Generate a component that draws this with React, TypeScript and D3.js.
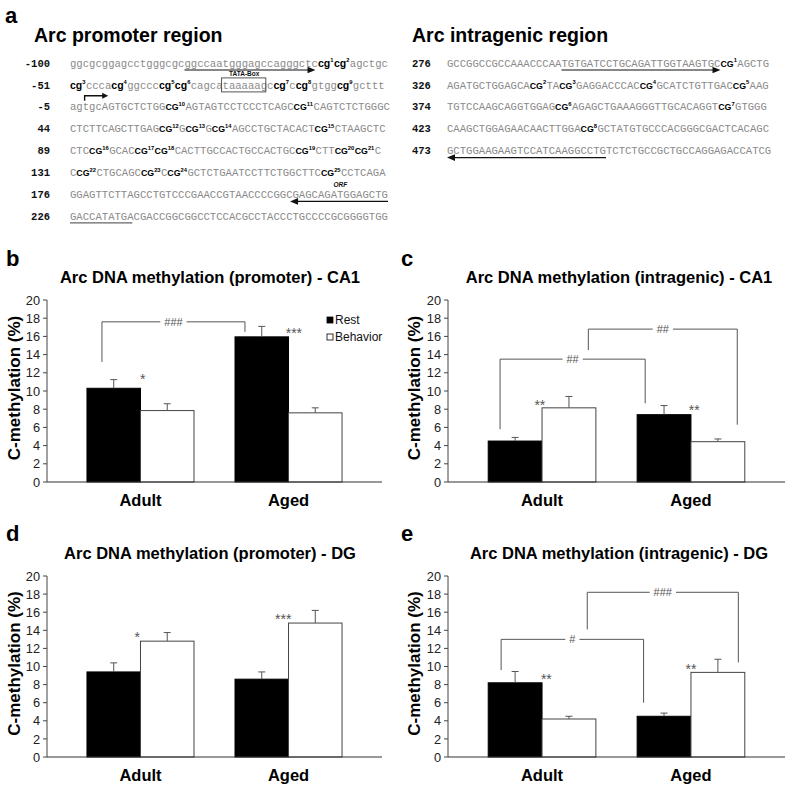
import React from "react";
import * as d3 from "d3";

// ---------------- Panel a: sequences ----------------
const promoterNumbers = ["-100", "-51", "-5", "44", "89", "131", "176", "226"];
const promoterRows = [
  "ggcgcggagcctgggcgcggccaatgggagccagggctc[cg1][cg2]agctgc",
  "[cg3]ccca[cg4]ggccc[cg5][cg6]cagcataaaaagc[cg7]c[cg8]gtgg[cg9]gcttt",
  "agtgcAGTGCTCTGG[CG10]AGTAGTCCTCCCTCAGC[CG11]CAGTCTCTGGGC",
  "CTCTTCAGCTTGAG[CG12]G[CG13]G[CG14]AGCCTGCTACACT[CG15]CTAAGCTC",
  "CTC[CG16]GCAC[CG17][CG18]CACTTGCCACTGCCACTGC[CG19]CTT[CG20][CG21]C",
  "C[CG22]CTGCAGC[CG23]C[CG24]GCTCTGAATCCTTCTGGCTTC[CG25]CCTCAGA",
  "GGAGTTCTTAGCCTGTCCCGAACCGTAACCCCGGCGAGCAGATGGAGCTG",
  "GACCATATGACGACCGGCGGCCTCCACGCCTACCCTGCCCCGCGGGGTGG",
];
const intragenicNumbers = ["276", "326", "374", "423", "473"];
const intragenicRows = [
  "GCCGGCCGCCAAACCCAATGTGATCCTGCAGATTGGTAAGTGC[CG1]AGCTG",
  "AGATGCTGGAGCA[CG2]TA[CG3]GAGGACCCAC[CG4]GCATCTGTTGAC[CG5]AAG",
  "TGTCCAAGCAGGTGGAG[CG6]AGAGCTGAAAGGGTTGCACAGGT[CG7]GTGGG",
  "CAAGCTGGAGAACAACTTGGA[CG8]GCTATGTGCCCACGGGCGACTCACAGC",
  "GCTGGAAGAAGTCCATCAAGGCCTGTCTCTGCCGCTGCCAGGAGACCATCG",
];
// feature annotations (row, base index range)
const promoterFeatures = [
  { row: 0, type: "arrowRight", from: 18, to: 38.6, label: "" },
  { row: 1, type: "box", from: 22, to: 28.8, label: "TATA-Box" },
  { row: 2, type: "tss", from: 2.3, to: 6, label: "" },
  { row: 6, type: "arrowLeft", from: 50, to: 34.6, label: "ORF" },
  { row: 7, type: "underline", from: 0, to: 9.8, label: "" },
];
const intragenicFeatures = [
  { row: 0, type: "arrowRight", from: 18, to: 43, label: "" },
  { row: 4, type: "arrowLeft", from: 25, to: 0, label: "" },
];

// ---------------- Bar chart data ----------------
const categories = ["Adult", "Aged"];
const seriesNames = ["Rest", "Behavior"];
const yTicks = [0, 2, 4, 6, 8, 10, 12, 14, 16, 18, 20];

const promoterCA1Rest = [10.3, 15.95];
const promoterCA1RestErr = [0.95, 1.15];
const promoterCA1Behavior = [7.85, 7.6];
const promoterCA1BehaviorErr = [0.75, 0.55];
const promoterCA1Stars = [
  { cat: "Adult", pos: 0.52, level: 11.5, text: "*" },
  { cat: "Aged", pos: 0.55, level: 16.6, text: "***" },
];
const promoterCA1Brackets = [
  { from: "Adult", fromPos: 0.14, to: "Aged", toPos: 0.093, left: 13.2, top: 17.6, right: 16.5, label: "###" },
];

const intragenicCA1Rest = [4.5, 7.4];
const intragenicCA1RestErr = [0.4, 1.0];
const intragenicCA1Behavior = [8.15, 4.43];
const intragenicCA1BehaviorErr = [1.25, 0.3];
const intragenicCA1Stars = [
  { cat: "Adult", pos: 0.48, level: 8.7, text: "**" },
  { cat: "Aged", pos: 0.53, level: 8.1, text: "**" },
];
const intragenicCA1Brackets = [
  { from: "Adult", fromPos: 0.11, to: "Aged", toPos: 0.075, left: 5.8, top: 13.5, right: 8.65, label: "##" },
  { from: "Adult", fromPos: 0.93, to: "Aged", toPos: 0.93, left: 14.5, top: 16.8, right: 6.3, label: "##" },
];

const promoterDGRest = [9.4, 8.6];
const promoterDGRestErr = [1.0, 0.8];
const promoterDGBehavior = [12.8, 14.8];
const promoterDGBehaviorErr = [0.95, 1.4];
const promoterDGStars = [
  { cat: "Adult", pos: 0.47, level: 13.5, text: "*" },
  { cat: "Aged", pos: 0.45, level: 15.5, text: "***" },
];
const promoterDGBrackets: any[] = [];

const intragenicDGRest = [8.2, 4.5];
const intragenicDGRestErr = [1.25, 0.35];
const intragenicDGBehavior = [4.2, 9.35];
const intragenicDGBehaviorErr = [0.3, 1.45];
const intragenicDGStars = [
  { cat: "Adult", pos: 0.54, level: 8.8, text: "**" },
  { cat: "Aged", pos: 0.5, level: 9.9, text: "**" },
];
const intragenicDGBrackets = [
  { from: "Adult", fromPos: 0.12, to: "Aged", toPos: 0.06, left: 9.6, top: 13.0, right: 6.0, label: "#" },
  { from: "Adult", fromPos: 0.92, to: "Aged", toPos: 0.94, left: 14.1, top: 18.2, right: 10.45, label: "###" },
];

const panels = [
  { id: "b", title: "Arc DNA methylation (promoter) - CA1", frame: { x0: 47, x1: 382, top: 300, bottom: 482 }, label: [6, 266], titleX: 210, ylabX: 20, rest: promoterCA1Rest, restErr: promoterCA1RestErr, beh: promoterCA1Behavior, behErr: promoterCA1BehaviorErr, stars: promoterCA1Stars, brackets: promoterCA1Brackets, legend: true },
  { id: "c", title: "Arc DNA methylation (intragenic) - CA1", frame: { x0: 448, x1: 785, top: 300, bottom: 482 }, label: [401, 266], titleX: 619, ylabX: 420, rest: intragenicCA1Rest, restErr: intragenicCA1RestErr, beh: intragenicCA1Behavior, behErr: intragenicCA1BehaviorErr, stars: intragenicCA1Stars, brackets: intragenicCA1Brackets, legend: false },
  { id: "d", title: "Arc DNA methylation (promoter) - DG", frame: { x0: 47, x1: 382, top: 576, bottom: 757 }, label: [6, 541], titleX: 210, ylabX: 20, rest: promoterDGRest, restErr: promoterDGRestErr, beh: promoterDGBehavior, behErr: promoterDGBehaviorErr, stars: promoterDGStars, brackets: promoterDGBrackets, legend: false },
  { id: "e", title: "Arc DNA methylation (intragenic) - DG", frame: { x0: 448, x1: 785, top: 576, bottom: 757 }, label: [401, 541], titleX: 619, ylabX: 420, rest: intragenicDGRest, restErr: intragenicDGRestErr, beh: intragenicDGBehavior, behErr: intragenicDGBehaviorErr, stars: intragenicDGStars, brackets: intragenicDGBrackets, legend: false },
];

const SANS = "'Liberation Sans', Arial, Helvetica, sans-serif";
const MONO = "'Liberation Mono', 'Courier New', monospace";
const SEQ_FS = 10.6;
const CW = SEQ_FS * 0.6;
const CG_LOWER_FS = 10.5;
const CG_UPPER_FS = 8.8;
const SUP_FS = 5.8;
const boldW: Record<string, number> = { c: 0.556, g: 0.611, C: 0.722, G: 0.778 };

type Seg = { kind: string; text: string; num?: string; x: number; fs?: number; supX?: number };

function layoutRow(row: string, x0: number) {
  const parts = row.split(/(\[(?:cg|CG)\d+\])/).filter((p) => p.length > 0);
  const segs: Seg[] = [];
  const baseX: number[] = [];
  let x = x0;
  for (const p of parts) {
    const m = p.match(/^\[(cg|CG)(\d+)\]$/);
    if (m) {
      const fs = m[1] === "cg" ? CG_LOWER_FS : CG_UPPER_FS;
      const w1 = boldW[m[1][0]] * fs;
      const w2 = boldW[m[1][1]] * fs;
      baseX.push(x, x + w1);
      const supX = x + w1 + w2;
      segs.push({ kind: "cg", text: m[1], num: m[2], x, fs, supX });
      x = supX + m[2].length * 0.556 * SUP_FS + 0.4;
    } else {
      for (let i = 0; i < p.length; i++) baseX.push(x + i * CW);
      segs.push({ kind: "base", text: p, x });
      x += p.length * CW;
    }
  }
  baseX.push(x);
  return { segs, baseX };
}

function xAt(baseX: number[], f: number) {
  const i = Math.floor(f);
  if (i >= baseX.length - 1) return baseX[baseX.length - 1];
  return baseX[i] + (f - i) * (baseX[i + 1] - baseX[i]);
}

function SeqBlock({ numbers, rows, features, numX, numAnchor, seqX, rowY0, rowStep }: any) {
  const layouts = rows.map((r: string) => layoutRow(r, seqX));
  return (
    <g>
      {rows.map((r: string, i: number) => {
        const yc = rowY0 + i * rowStep;
        const base = yc + 3.6;
        const { segs } = layouts[i];
        return (
          <g key={i}>
            <text x={numX} y={base} textAnchor={numAnchor} fontFamily={MONO} fontWeight="bold" fontSize={10.5} fill="#111">
              {numbers[i]}
            </text>
            {segs.map((s: Seg, j: number) =>
              s.kind === "base" ? (
                <text key={j} x={s.x} y={base} fontFamily={MONO} fontSize={SEQ_FS} fill="#8a8a8a">
                  {s.text}
                </text>
              ) : (
                <g key={j}>
                  <text x={s.x} y={base} fontFamily={SANS} fontWeight="bold" fontSize={s.fs} fill="#000">
                    {s.text}
                  </text>
                  <text x={s.supX} y={base - 4.2} fontFamily={SANS} fontWeight="bold" fontSize={SUP_FS} fill="#000">
                    {s.num}
                  </text>
                </g>
              )
            )}
          </g>
        );
      })}
      {features.map((f: any, k: number) => {
        const yc = rowY0 + f.row * rowStep;
        const bx = layouts[f.row].baseX;
        const xa = xAt(bx, f.from);
        const xb = xAt(bx, f.to);
        if (f.type === "arrowRight") {
          const yy = yc + 7;
          return (
            <g key={k}>
              <line x1={xa} x2={xb - 6} y1={yy} y2={yy} stroke="#111" strokeWidth={1.1} />
              <path d={`M${xb},${yy} L${xb - 8},${yy - 3.3} L${xb - 8},${yy + 3.3} Z`} fill="#111" />
            </g>
          );
        }
        if (f.type === "arrowLeft") {
          const yy = yc + 7;
          return (
            <g key={k}>
              <line x1={xa} x2={xb + 6} y1={yy} y2={yy} stroke="#111" strokeWidth={1.1} />
              <path d={`M${xb},${yy} L${xb + 8},${yy - 3.3} L${xb + 8},${yy + 3.3} Z`} fill="#111" />
              {f.label ? (
                <text x={xAt(bx, 42.5)} y={yc - 7.5} textAnchor="middle" fontFamily={SANS} fontWeight="bold" fontStyle="italic" fontSize={6.5} fill="#111">
                  {f.label}
                </text>
              ) : null}
            </g>
          );
        }
        if (f.type === "underline") {
          const yy = yc + 6.5;
          return <line key={k} x1={xa} x2={xb} y1={yy} y2={yy} stroke="#666" strokeWidth={1.2} />;
        }
        if (f.type === "box") {
          return (
            <g key={k}>
              <rect x={xa - 1} y={yc - 7} width={xb - xa + 1} height={14} fill="none" stroke="#555" strokeWidth={1} />
              <text x={(xa + xb) / 2} y={yc - 8.5} textAnchor="middle" fontFamily={SANS} fontWeight="bold" fontSize={6.5} fill="#111">
                {f.label}
              </text>
            </g>
          );
        }
        if (f.type === "tss") {
          const yTop = yc - 11;
          return (
            <g key={k}>
              <path d={`M${xa},${yc - 6} V${yTop} H${xb - 5}`} fill="none" stroke="#111" strokeWidth={1.4} />
              <path d={`M${xb},${yTop} L${xb - 6},${yTop - 3} L${xb - 6},${yTop + 3} Z`} fill="#111" />
            </g>
          );
        }
        return null;
      })}
    </g>
  );
}

function BarPanel({ p }: any) {
  const { x0, x1, top, bottom } = p.frame;
  const y = d3.scaleLinear().domain([0, 20]).range([bottom, top]);
  const x = d3.scaleBand().domain(categories).range([x0, x1]).paddingInner(0.277).paddingOuter(0.27);
  const xs = d3.scaleBand().domain(seriesNames).range([0, x.bandwidth()]);
  const values: Record<string, number[]> = { Rest: p.rest, Behavior: p.beh };
  const errs: Record<string, number[]> = { Rest: p.restErr, Behavior: p.behErr };
  const bw = xs.bandwidth();
  return (
    <g>
      <text x={p.label[0]} y={p.label[1]} fontFamily={SANS} fontWeight="bold" fontSize={22} fill="#000">
        {p.id}
      </text>
      <text x={p.titleX} y={top - 17} textAnchor="middle" fontFamily={SANS} fontWeight="bold" fontSize={16.5} fill="#000">
        {p.title}
      </text>
      <text
        transform={`translate(${p.ylabX},${(top + bottom) / 2 - 3}) rotate(-90)`}
        textAnchor="middle"
        fontFamily={SANS}
        fontWeight="bold"
        fontSize={17}
        fill="#000"
      >
        C-methylation (%)
      </text>
      {yTicks.map((t) => (
        <g key={t}>
          <line x1={x0 - 4} x2={x0} y1={y(t)} y2={y(t)} stroke="#444" strokeWidth={1} />
          <text x={x0 - 7} y={y(t)} dy="0.36em" textAnchor="end" fontFamily={SANS} fontSize={12.8} fill="#222">
            {t}
          </text>
        </g>
      ))}
      {seriesNames.map((s) =>
        categories.map((c, i) => {
          const v = values[s][i];
          const bx = (x(c) as number) + (xs(s) as number);
          return (
            <rect
              key={s + c}
              x={bx}
              y={y(v)}
              width={bw}
              height={y(0) - y(v)}
              fill={s === "Rest" ? "#000" : "#fff"}
              stroke={s === "Rest" ? "#000" : "#444"}
              strokeWidth={1}
            />
          );
        })
      )}
      {seriesNames.map((s) =>
        categories.map((c, i) => {
          const v = values[s][i];
          const e = errs[s][i];
          const cx = (x(c) as number) + (xs(s) as number) + bw / 2;
          return (
            <g key={"e" + s + c}>
              <line x1={cx} x2={cx} y1={y(v)} y2={y(v + e)} stroke="#555" strokeWidth={1} />
              <line x1={cx - 3.5} x2={cx + 3.5} y1={y(v + e)} y2={y(v + e)} stroke="#555" strokeWidth={1} />
            </g>
          );
        })
      )}
      <line x1={x0} x2={x0} y1={top} y2={bottom} stroke="#444" strokeWidth={1} />
      <line x1={x0} x2={x1} y1={bottom} y2={bottom} stroke="#333" strokeWidth={1.2} />
      {categories.map((c) => (
        <text key={c} x={(x(c) as number) + x.bandwidth() / 2} y={bottom + 24} textAnchor="middle" fontFamily={SANS} fontWeight="bold" fontSize={16.5} fill="#000">
          {c}
        </text>
      ))}
      {p.stars.map((s: any, i: number) => (
        <text key={i} x={(x(s.cat) as number) + s.pos * x.bandwidth()} y={y(s.level) + 7} textAnchor="middle" fontFamily={SANS} fontSize={14} fill="#555">
          {s.text}
        </text>
      ))}
      {p.brackets.map((b: any, i: number) => {
        const xa = (x(b.from) as number) + b.fromPos * x.bandwidth();
        const xb = (x(b.to) as number) + b.toPos * x.bandwidth();
        const yt = y(b.top);
        const mid = (xa + xb) / 2;
        const tw = b.label.length * 0.556 * 11 + 8;
        return (
          <g key={i}>
            <path d={`M${xa},${y(b.left)} V${yt} H${xb} V${y(b.right)}`} fill="none" stroke="#555" strokeWidth={1} />
            <rect x={mid - tw / 2} y={yt - 4} width={tw} height={8} fill="#fff" />
            <text x={mid} y={yt} dy="0.36em" textAnchor="middle" fontFamily={SANS} fontSize={11} fill="#555">
              {b.label}
            </text>
          </g>
        );
      })}
      {p.legend
        ? seriesNames.map((s, i) => (
            <g key={s}>
              <rect x={x1 - 55} y={top + 17 + i * 17} width={6} height={6} fill={s === "Rest" ? "#000" : "#fff"} stroke="#000" strokeWidth={0.8} />
              <text x={x1 - 47} y={top + 20 + i * 17} dy="0.36em" fontFamily={SANS} fontSize={12} fill="#111">
                {s}
              </text>
            </g>
          ))
        : null}
    </g>
  );
}

export default function App() {
  return (
    <svg width={790} height={791} style={{ position: "absolute", left: 0, top: 0, display: "block" }}>
      <rect width={790} height={791} fill="#fff" />
      <text x={5} y={23} fontFamily={SANS} fontWeight="bold" fontSize={22} fill="#000">
        a
      </text>
      <text x={34} y={42} fontFamily={SANS} fontWeight="bold" fontSize={19.5} fill="#000">
        Arc promoter region
      </text>
      <text x={412} y={42} fontFamily={SANS} fontWeight="bold" fontSize={19.5} fill="#000">
        Arc intragenic region
      </text>
      <SeqBlock numbers={promoterNumbers} rows={promoterRows} features={promoterFeatures} numX={50} numAnchor="end" seqX={70} rowY0={63} rowStep={21.9} />
      <SeqBlock numbers={intragenicNumbers} rows={intragenicRows} features={intragenicFeatures} numX={412} numAnchor="start" seqX={447} rowY0={63} rowStep={21.9} />
      {panels.map((p) => (
        <BarPanel key={p.id} p={p} />
      ))}
    </svg>
  );
}
